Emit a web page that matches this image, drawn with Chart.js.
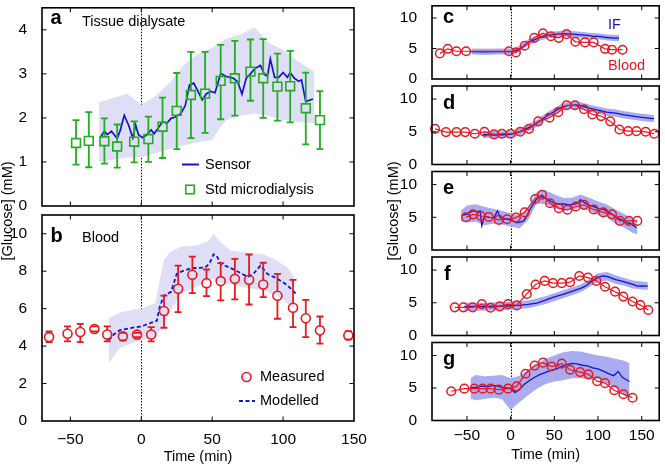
<!DOCTYPE html>
<html>
<head>
<meta charset="utf-8">
<title>Glucose: tissue dialysate, blood and IF</title>
<script src="https://cdn.jsdelivr.net/npm/chart.js@4.4.0/dist/chart.umd.min.js"></script>
<style>
  html, body { margin: 0; padding: 0; background: #fff; }
  #fig { position: relative; width: 665px; height: 465px; overflow: hidden; }
  #fig canvas { position: absolute; left: 0; top: 0; }
</style>
</head>
<body>
<div id="fig">
  <canvas id="panelA" width="665" height="465"></canvas>
  <canvas id="panelB" width="665" height="465"></canvas>
  <canvas id="panelC" width="665" height="465"></canvas>
  <canvas id="panelD" width="665" height="465"></canvas>
  <canvas id="panelE" width="665" height="465"></canvas>
  <canvas id="panelF" width="665" height="465"></canvas>
  <canvas id="panelG" width="665" height="465"></canvas>
</div>
<script>
/* ============================================
   COLOURS
   ============================================ */
const BLUE       = '#1414c8';   // sensor / IF / modelled
const GREEN      = '#22ad22';   // std microdialysis
const RED        = '#e8191e';   // blood
const BAND_LIGHT = '#dedff7';   // shaded band, panels a-b
const BAND_RIGHT = '#aaacf2';   // shaded band, panels c-g
const FONT       = '"Liberation Sans", Arial, Helvetica, sans-serif';

const W = 665, H = 465;

// ============================================
// DATA
// ============================================

// tick labels
const xTicks      = [-50, 0, 50, 100, 150];
const yTicksA     = [0, 1, 2, 3, 4];
const yTicksB     = [0, 2, 4, 6, 8, 10];
const yTicksRight = [0, 5, 10];

// a) tissue dialysate - std microdialysis (mean, upper, lower)
const microT  = [-46, -37, -26, -17, -5, 5, 15, 25, 35, 45, 56, 66, 77, 86, 96, 105, 116, 126];
const microV  = [1.43, 1.48, 1.47, 1.35, 1.46, 1.52, 1.80, 2.16, 2.52, 2.55, 2.84, 2.90, 3.05, 2.90, 2.71, 2.72, 2.22, 1.95];
const microHi = [1.95, 2.13, 1.99, 1.85, 1.92, 2.03, 2.46, 3.02, 3.50, 3.50, 3.66, 3.75, 3.78, 3.79, 3.46, 3.52, 3.03, 2.61];
const microLo = [0.94, 0.88, 0.96, 0.87, 0.99, 1.00, 1.09, 1.29, 1.54, 1.66, 1.97, 2.05, 2.39, 2.00, 1.94, 1.90, 1.40, 1.29];

// a) sensor
const sensorT = [-29, -26, -24, -21, -17, -15, -12, -9, -6, -4, -2, 1, 4, 7, 9, 12, 15, 18, 21, 24,
                 28, 31, 34, 37, 40, 43, 46, 49, 52, 56, 60, 65, 68, 71, 74, 77, 80, 84, 87, 89,
                 91, 94, 97, 100, 103, 105, 108, 111, 113, 116, 121];
const sensorV = [1.55, 1.70, 1.62, 1.70, 1.53, 1.70, 2.06, 1.84, 1.55, 1.84, 1.62, 1.55, 1.62, 1.73, 1.64, 1.77, 1.92, 1.88, 1.99, 2.02,
                 2.10, 2.28, 2.75, 2.79, 2.60, 2.41, 2.55, 2.60, 2.57, 3.01, 2.94, 2.90, 2.82, 2.54, 2.90, 3.00, 3.12, 3.19, 2.98, 2.95,
                 3.34, 2.92, 2.92, 3.03, 2.92, 3.03, 2.90, 2.83, 2.86, 2.37, 2.43];

// a) sensor band
const aBandT  = [-30, -20, -10, 0, 10, 20, 30, 40, 50, 55, 60, 70, 80, 90, 100, 110, 122];
const aBandHi = [2.35, 2.45, 2.55, 2.30, 2.50, 2.80, 3.20, 3.45, 3.60, 3.70, 3.80, 3.90, 4.05, 3.70, 3.55, 3.30, 3.05];
const aBandLo = [1.00, 1.05, 1.10, 1.10, 1.20, 1.30, 1.38, 1.45, 1.50, 1.75, 1.95, 2.05, 2.10, 2.05, 1.95, 1.90, 1.88];

// b) blood - measured (mean, upper, lower)
const bloodT  = [-65, -52, -43, -33, -24, -13, -3, 7, 16, 26, 36, 46, 56, 66, 76, 86, 96, 107, 116, 126, 146];
const bloodV  = [4.48, 4.66, 4.75, 4.91, 4.62, 4.52, 4.61, 4.62, 5.87, 7.06, 7.81, 7.36, 7.47, 7.59, 7.54, 7.29, 6.69, 6.05, 5.49, 4.84, 4.57];
const bloodHi = [4.78, 5.05, 5.19, 5.05, 5.05, 4.71, 4.71, 5.01, 6.70, 8.30, 8.78, 8.09, 8.43, 8.66, 8.89, 8.45, 7.86, 7.54, 6.47, 5.58, 4.80];
const bloodLo = [4.21, 4.25, 4.21, 4.78, 4.25, 4.30, 4.48, 4.25, 4.98, 5.81, 6.83, 6.67, 6.44, 6.49, 6.22, 6.61, 5.46, 5.01, 4.48, 4.13, 4.36];

// b) modelled
const modelT = [-23, -19, -15, -5, 0, 9, 11, 13, 16, 21, 25, 29, 35, 45, 48, 51, 53, 56, 65, 75, 79, 84, 89, 96, 103, 109];
const modelV = [4.30, 4.65, 4.85, 5.00, 5.05, 5.30, 5.35, 6.10, 6.70, 6.90, 7.85, 8.00, 8.15, 8.20, 8.40, 8.90, 8.85, 8.40, 8.10, 7.70, 7.85, 8.30, 7.85, 7.60, 7.25, 6.80];

// b) modelled band
const bBandT  = [-23, -15, -5, 0, 10, 13, 16, 20, 28, 40, 47, 51, 55, 63, 75, 86, 95, 103, 108];
const bBandHi = [5.5, 5.8, 5.95, 6.0, 6.3, 7.5, 8.6, 9.0, 9.3, 9.4, 9.6, 10.0, 9.6, 9.1, 9.0, 8.9, 8.6, 8.2, 7.7];
const bBandLo = [3.1, 3.9, 4.2, 4.3, 4.5, 4.8, 5.0, 5.8, 6.8, 7.2, 7.5, 7.6, 7.4, 7.3, 7.1, 7.0, 6.7, 6.3, 6.0];

// c) single subject
const cBloodT = [-81, -72, -62, -51, -2, 6, 16, 27, 37, 46, 55, 64, 74, 85, 95, 108, 116, 128];
const cBloodV = [4.2, 4.95, 4.55, 4.55, 4.55, 4.35, 5.45, 6.75, 7.5, 7.0, 6.75, 7.35, 6.1, 6.0, 6.0, 4.95, 4.8, 4.8];
const cIfT    = [-45, -30, -15, 0, 5, 10, 15, 20, 25, 30, 35, 40, 45, 50, 55, 60, 65, 70, 75, 80, 85, 90, 95, 100, 105, 110, 115, 120, 124];
const cIfV    = [4.5, 4.45, 4.5, 4.5, 4.6, 4.9, 5.4, 6.0, 6.3, 6.6, 6.9, 7.1, 7.2, 7.3, 7.4, 7.45, 7.4, 7.35, 7.3, 7.25, 7.2, 7.1, 7.0, 7.0, 6.9, 6.8, 6.75, 6.7, 6.7];
const cBandT  = [-45, -30, -15, 0, 10, 20, 30, 40, 50, 60, 70, 80, 90, 100, 110, 124];
const cBandHi = [5.0, 4.95, 5.0, 5.0, 5.4, 6.5, 7.1, 7.6, 7.8, 7.95, 7.85, 7.75, 7.6, 7.5, 7.3, 7.2];
const cBandLo = [4.0, 3.95, 4.0, 4.0, 4.4, 5.5, 6.1, 6.6, 6.8, 6.95, 6.85, 6.75, 6.6, 6.5, 6.3, 6.2];

// d)
const dBloodT = [-86.5, -74, -62, -52, -41, -30, -19, -10, 0, 11, 21, 31.5, 44.5, 54.5, 64, 73.5, 84, 93.5, 103.5, 114, 124.5, 134.5, 144, 154.5, 164.5];
const dBloodV = [5.45, 4.95, 4.95, 4.95, 4.7, 5.0, 4.6, 4.7, 4.7, 5.0, 5.45, 6.6, 7.15, 8.0, 9.05, 9.05, 8.45, 7.65, 7.4, 6.6, 5.35, 5.1, 5.1, 5.0, 4.7];
const dIfT    = [-32, -20, -10, 0, 5, 10, 15, 20, 25, 30, 35, 40, 45, 50, 55, 60, 65, 70, 75, 80, 90, 100, 110, 120, 130, 140, 150, 160, 164];
const dIfV    = [4.6, 4.5, 4.55, 4.6, 4.8, 5.0, 5.3, 5.6, 5.9, 6.3, 6.8, 7.3, 7.7, 8.1, 8.5, 8.85, 9.0, 9.05, 9.1, 9.0, 8.6, 8.3, 8.0, 7.85, 7.6, 7.4, 7.2, 7.05, 7.0];
const dBandT  = [-32, -15, 0, 10, 20, 30, 40, 50, 60, 70, 80, 90, 100, 110, 120, 130, 140, 150, 164];
const dBandHi = [5.15, 5.1, 5.15, 5.55, 6.15, 6.85, 7.85, 8.65, 9.4, 9.6, 9.55, 9.15, 8.85, 8.55, 8.4, 8.15, 7.95, 7.75, 7.55];
const dBandLo = [4.05, 4.0, 4.05, 4.45, 5.05, 5.75, 6.75, 7.55, 8.3, 8.5, 8.45, 8.05, 7.75, 7.45, 7.3, 7.05, 6.85, 6.65, 6.45];

// e)
const eBloodT = [-51, -43, -34, -25, -13.5, -4, 6, 16, 28, 36, 45, 55, 65, 74.5, 84, 95, 106, 116, 125, 135.5, 145];
const eBloodV = [5.0, 5.45, 5.2, 5.05, 4.6, 4.7, 4.95, 5.75, 7.8, 8.45, 7.15, 6.4, 6.15, 6.65, 6.9, 6.2, 5.75, 5.45, 4.45, 4.45, 4.45];
const eIfT    = [-56, -50, -43, -38, -35, -33, -30, -25, -19, -15, -12, -7, -3, 2, 7, 12, 15, 19, 22, 27, 31, 35,
                 39, 44, 48, 55, 61, 67, 73, 77, 80, 85, 91, 96, 101, 106, 112, 117, 121, 127, 132, 136, 140, 144];
const eIfV    = [5.3, 5.5, 6.0, 5.8, 6.0, 3.7, 5.2, 5.0, 4.95, 6.0, 4.95, 4.8, 4.7, 4.5, 4.15, 4.3, 4.45, 5.3, 6.2, 7.2, 8.05, 8.2,
                 8.0, 7.6, 7.3, 7.0, 7.05, 6.9, 7.0, 7.2, 7.7, 7.2, 6.8, 6.6, 6.3, 6.25, 5.8, 5.4, 4.95, 4.6, 4.2, 4.1, 3.8, 3.4];
const eBandT  = [-57, -50, -40, -30, -20, -10, 0, 10, 20, 30, 40, 50, 60, 70, 80, 90, 100, 110, 120, 130, 140, 145];
const eBandHi = [6.0, 6.8, 7.0, 6.6, 6.3, 6.0, 5.6, 5.2, 6.6, 8.9, 9.1, 8.5, 8.0, 8.0, 8.5, 8.0, 7.4, 7.0, 6.2, 5.5, 4.8, 4.5];
const eBandLo = [4.4, 4.2, 4.3, 3.8, 4.0, 3.9, 3.6, 3.3, 4.6, 7.1, 7.0, 6.4, 6.0, 6.1, 6.5, 6.0, 5.4, 5.0, 4.0, 3.4, 2.6, 2.4];

// f)
const fBloodT = [-64, -54, -43.5, -33, -23, -12.5, -3, 7, 18.5, 28.5, 39, 48.5, 58.5, 68, 78.5, 88.5, 98, 108, 119.5, 129, 139.5, 148.5, 157.5];
const fBloodV = [4.3, 4.3, 4.3, 4.8, 4.25, 4.45, 4.8, 4.6, 6.35, 7.8, 8.35, 8.0, 8.0, 8.15, 9.1, 8.85, 8.35, 7.45, 6.7, 5.95, 5.2, 4.65, 3.9];
const fIfT    = [-53, -40, -30, -20, -10, 0, 10, 20, 30, 40, 50, 60, 70, 80, 85, 90, 95, 100, 105, 110, 115, 120, 125, 130, 135, 140, 145, 150, 157];
const fIfV    = [4.4, 4.45, 4.4, 4.5, 4.5, 4.55, 4.6, 4.75, 4.95, 5.4, 5.9, 6.3, 6.75, 7.2, 7.5, 8.0, 8.5, 8.85, 9.1, 9.05, 8.8, 8.55, 8.4, 8.2, 8.0, 7.8, 7.55, 7.6, 7.55];
const fBandT  = [-53, -30, 0, 20, 40, 60, 80, 90, 100, 110, 120, 130, 140, 157];
const fBandHi = [5.0, 5.0, 5.15, 5.35, 6.0, 6.9, 7.8, 8.6, 9.5, 9.7, 9.2, 8.8, 8.4, 8.15];
const fBandLo = [3.8, 3.8, 3.95, 4.15, 4.8, 5.7, 6.6, 7.4, 8.2, 8.4, 7.9, 7.6, 7.2, 6.95];

// g)
const gBloodT = [-68, -53, -41.5, -32, -23, -13.5, -3, 7, 17, 27.5, 37, 47, 58.5, 68, 79.5, 89, 99, 108, 118.5, 129, 139.5];
const gBloodV = [4.5, 4.9, 4.9, 4.9, 4.9, 4.75, 4.9, 5.25, 7.2, 8.45, 8.9, 8.3, 8.75, 7.8, 7.45, 7.1, 6.05, 5.75, 4.65, 4.05, 3.5];
const gIfT    = [-46, -40, -35, -30, -25, -20, -15, -10, -5, 0, 5, 10, 16, 22, 28, 34, 40, 46, 52, 58, 64, 70,
                 76, 82, 88, 94, 100, 106, 112, 118, 123, 128, 132, 136];
const gIfV    = [5.0, 5.1, 5.25, 5.3, 5.2, 5.4, 5.3, 5.1, 5.0, 4.9, 4.3, 4.8, 5.6, 6.2, 6.7, 7.1, 7.4, 7.7, 7.9, 8.3, 8.6, 8.8,
                 8.7, 8.5, 8.4, 8.1, 7.95, 7.6, 7.2, 6.9, 7.55, 6.6, 6.3, 6.0];
const gBandT  = [-46, -40, -30, -20, -10, 0, 10, 20, 30, 40, 50, 60, 70, 80, 90, 100, 110, 120, 130, 136];
const gBandHi = [6.5, 7.0, 6.8, 6.9, 7.0, 6.5, 6.9, 7.8, 8.7, 9.5, 10.0, 10.5, 10.7, 10.6, 10.3, 10.0, 9.8, 9.5, 9.2, 8.8];
const gBandLo = [3.4, 3.1, 3.3, 3.5, 3.3, 1.6, 2.8, 3.9, 4.9, 5.6, 6.0, 6.2, 6.5, 6.5, 6.3, 6.4, 5.7, 5.0, 3.9, 3.6];

// ============================================
// HELPERS
// ============================================
Chart.defaults.font.family = FONT;
Chart.defaults.color = '#000';

const pts = (xs, ys) => xs.map((x, i) => ({ x: x, y: ys[i] }));
const minus = v => String(v).replace('-', '\u2212');   // MATLAB style minus sign

// band = upper line + lower line filled to the previous dataset
function band(t, hi, lo, colour) {
    return [
        { data: pts(t, hi), borderWidth: 0, pointRadius: 0, fill: false, order: 9 },
        { data: pts(t, lo), borderWidth: 0, pointRadius: 0, fill: '-1', backgroundColor: colour, order: 9 }
    ];
}

// blue trace
function trace(t, v, width, dash) {
    return { data: pts(t, v), borderColor: BLUE, borderWidth: width, borderDash: dash || [],
             pointRadius: 0, fill: false, order: 3 };
}

// red circles joined by a line (panels c-g)
function bloodLine(t, v) {
    return { data: pts(t, v), borderColor: RED, borderWidth: 1.2, pointRadius: 4.3, pointBorderWidth: 1.5,
             pointBorderColor: RED, pointBackgroundColor: 'rgba(0,0,0,0)', fill: false, order: 1, clip: 6 };
}

// ============================================
// PLUGINS
// ============================================

// frame: box, inward ticks, dotted line at time 0
const TICK = 4.5;
const framePlugin = {
    id: 'frame',
    beforeDatasetsDraw(chart) {
        const { ctx, chartArea: a, scales: { x } } = chart;
        const p = Math.round(x.getPixelForValue(0)) + 0.5;
        ctx.save();
        ctx.strokeStyle = '#000';
        ctx.lineWidth = 1;
        ctx.setLineDash([1.5, 1.5]);
        ctx.beginPath();
        ctx.moveTo(p, a.top);
        ctx.lineTo(p, a.bottom);
        ctx.stroke();
        ctx.restore();
    },
    afterDatasetsDraw(chart) {
        const { ctx, chartArea: a, scales: { x, y } } = chart;
        ctx.save();
        ctx.strokeStyle = '#000';
        ctx.lineWidth = 1;
        ctx.beginPath();
        x.ticks.forEach(t => {
            const p = x.getPixelForValue(t.value);
            if (p < a.left + 2 || p > a.right - 2) return;
            ctx.moveTo(p, a.bottom); ctx.lineTo(p, a.bottom - TICK);
            ctx.moveTo(p, a.top);    ctx.lineTo(p, a.top + TICK);
        });
        y.ticks.forEach(t => {
            const p = y.getPixelForValue(t.value);
            if (p < a.top + 2 || p > a.bottom - 2) return;
            ctx.moveTo(a.left, p);  ctx.lineTo(a.left + TICK, p);
            ctx.moveTo(a.right, p); ctx.lineTo(a.right - TICK, p);
        });
        ctx.stroke();
        ctx.lineWidth = 1.6;
        ctx.strokeRect(a.left, a.top, a.right - a.left, a.bottom - a.top);
        ctx.restore();
    }
};

// error bars: dataset.errHi / errLo, gap around the marker, caps
const errorBarPlugin = {
    id: 'errorBars',
    afterDatasetsDraw(chart) {
        const { ctx, scales: { x, y } } = chart;
        chart.data.datasets.forEach(ds => {
            if (!ds.errHi) return;
            ctx.save();
            ctx.strokeStyle = ds.borderColor;
            ctx.lineWidth = 1.8;
            ctx.beginPath();
            ds.data.forEach((d, i) => {
                const px = x.getPixelForValue(d.x);
                const pc = y.getPixelForValue(d.y);
                const ph = y.getPixelForValue(ds.errHi[i]);
                const pl = y.getPixelForValue(ds.errLo[i]);
                if (pc - ds.errGap > ph) { ctx.moveTo(px, ph); ctx.lineTo(px, pc - ds.errGap); }
                if (pc + ds.errGap < pl) { ctx.moveTo(px, pc + ds.errGap); ctx.lineTo(px, pl); }
                ctx.moveTo(px - ds.capHalf, ph); ctx.lineTo(px + ds.capHalf, ph);
                ctx.moveTo(px - ds.capHalf, pl); ctx.lineTo(px + ds.capHalf, pl);
            });
            ctx.stroke();
            ctx.restore();
        });
    }
};

// annotations: panel letters, titles, legends, shared axis titles
const NOTES = {
    panelA: [
        { text: 'a', x: 50.5, y: 24, font: 'bold 20px ' + FONT },
        { text: 'Tissue dialysate', x: 82, y: 26, font: '14.5px ' + FONT },
        { kind: 'line', x1: 182, x2: 199, y: 164.5, color: BLUE, width: 2 },
        { text: 'Sensor', x: 205, y: 164.5, font: '14.5px ' + FONT, baseline: 'middle' },
        { kind: 'rect', x: 190, y: 189.5, size: 8.5, color: GREEN },
        { text: 'Std microdialysis', x: 205, y: 189.5, font: '14.5px ' + FONT, baseline: 'middle' },
        { text: '[Glucose] (mM)', x: 8, y: 211, font: '14.5px ' + FONT, rotate: -Math.PI / 2, align: 'center', baseline: 'middle' }
    ],
    panelB: [
        { text: 'b', x: 50.5, y: 241.5, font: 'bold 20px ' + FONT },
        { text: 'Blood', x: 82, y: 241.5, font: '14.5px ' + FONT },
        { kind: 'circle', x: 246.5, y: 377, r: 4.5, color: RED },
        { text: 'Measured', x: 260, y: 377, font: '14.5px ' + FONT, baseline: 'middle' },
        { kind: 'line', x1: 239, x2: 255, y: 401, color: BLUE, width: 1.8, dash: [4, 2.5] },
        { text: 'Modelled', x: 260, y: 401, font: '14.5px ' + FONT, baseline: 'middle' }
    ],
    panelC: [
        { text: 'c', x: 443, y: 23, font: 'bold 20px ' + FONT },
        { text: 'IF', x: 608, y: 28.5, font: '14.5px ' + FONT, color: BLUE },
        { text: 'Blood', x: 608, y: 70, font: '14.5px ' + FONT, color: RED }
    ],
    panelD: [ { text: 'd', x: 443, y: 108.5, font: 'bold 20px ' + FONT } ],
    panelE: [
        { text: 'e', x: 443, y: 193.5, font: 'bold 20px ' + FONT },
        { text: '[Glucose] (mM)', x: 394, y: 211, font: '14.5px ' + FONT, rotate: -Math.PI / 2, align: 'center', baseline: 'middle' }
    ],
    panelF: [ { text: 'f', x: 444, y: 279.5, font: 'bold 20px ' + FONT } ],
    panelG: [ { text: 'g', x: 443, y: 364.5, font: 'bold 20px ' + FONT } ]
};

const notesPlugin = {
    id: 'notes',
    afterDraw(chart) {
        const ctx = chart.ctx;
        (NOTES[chart.canvas.id] || []).forEach(it => {
            ctx.save();
            if (it.kind === 'line') {
                ctx.strokeStyle = it.color; ctx.lineWidth = it.width;
                ctx.setLineDash(it.dash || []);
                ctx.beginPath(); ctx.moveTo(it.x1, it.y); ctx.lineTo(it.x2, it.y); ctx.stroke();
            } else if (it.kind === 'rect') {
                ctx.strokeStyle = it.color; ctx.lineWidth = 1.6;
                ctx.strokeRect(it.x - it.size / 2, it.y - it.size / 2, it.size, it.size);
            } else if (it.kind === 'circle') {
                ctx.strokeStyle = it.color; ctx.lineWidth = 1.6;
                ctx.beginPath(); ctx.arc(it.x, it.y, it.r, 0, Math.PI * 2); ctx.stroke();
            } else {
                ctx.font = it.font;
                ctx.fillStyle = it.color || '#000';
                ctx.textAlign = it.align || 'left';
                ctx.textBaseline = it.baseline || 'alphabetic';
                ctx.translate(it.x, it.y);
                if (it.rotate) ctx.rotate(it.rotate);
                ctx.fillText(it.text, 0, 0);
            }
            ctx.restore();
        });
    }
};

// ============================================
// PANEL FACTORY
// ============================================
// box = chart area in page pixels; every canvas covers the whole figure
function makePanel(id, box, xRange, yRange, yTicks, xLabels, datasets) {
    return new Chart(document.getElementById(id), {
        type: 'line',
        data: { datasets: datasets },
        options: {
            responsive: false,
            animation: false,
            devicePixelRatio: 1,
            layout: { padding: { top: box.t, right: W - box.r, left: 0, bottom: 0 } },
            plugins: { legend: { display: false }, tooltip: { enabled: false } },
            scales: {
                x: {
                    type: 'linear', min: xRange[0], max: xRange[1],
                    grid: { display: false }, border: { display: false },
                    afterBuildTicks: s => { s.ticks = xTicks.map(v => ({ value: v })); },
                    afterFit: s => { s.height = H - box.b; s.paddingLeft = 0; s.paddingRight = 0; },
                    ticks: { display: !!xLabels, padding: xLabels ? xLabels.pad : 0, autoSkip: false, maxRotation: 0,
                             font: { size: 15.5, lineHeight: 1.2 }, callback: minus },
                    title: { display: !!xLabels, text: 'Time (min)', font: { size: 14.5, lineHeight: 1 },
                             padding: { top: 0, bottom: xLabels ? xLabels.titlePad : 0 } }
                },
                y: {
                    type: 'linear', min: yRange[0], max: yRange[1],
                    grid: { display: false }, border: { display: false },
                    afterBuildTicks: s => { s.ticks = yTicks.map(v => ({ value: v })); },
                    afterFit: s => { s.width = box.l; s.paddingTop = 0; s.paddingBottom = 0; },
                    ticks: { padding: 7, autoSkip: false, font: { size: 15.5 }, callback: minus }
                }
            }
        },
        plugins: [framePlugin, errorBarPlugin, notesPlugin]
    });
}

// ============================================
// LEFT PANELS (a, b)
// ============================================
const LEFT_X = [-70, 150];

makePanel('panelA', { l: 42, t: 1, r: 354, b: 206 }, LEFT_X, [0, 4.5], yTicksA, null, [
    ...band(aBandT, aBandHi, aBandLo, BAND_LIGHT),
    trace(sensorT, sensorV, 1.7),
    { data: pts(microT, microV), showLine: false, pointStyle: 'rect', pointRadius: 6.2, pointBorderWidth: 1.6,
      pointBorderColor: GREEN, pointBackgroundColor: 'rgba(0,0,0,0)', borderColor: GREEN, order: 1,
      errHi: microHi, errLo: microLo, errGap: 4.5, capHalf: 3.5 }
]);

makePanel('panelB', { l: 42, t: 215, r: 354, b: 421 }, LEFT_X, [0, 11], yTicksB, { pad: 1, titlePad: 1 }, [
    ...band(bBandT, bBandHi, bBandLo, BAND_LIGHT),
    trace(modelT, modelV, 1.8, [4, 2.5]),
    { data: pts(bloodT, bloodV), showLine: false, pointStyle: 'circle', pointRadius: 4.5, pointBorderWidth: 1.6,
      pointBorderColor: RED, pointBackgroundColor: 'rgba(0,0,0,0)', borderColor: RED, order: 1,
      errHi: bloodHi, errLo: bloodLo, errGap: 4.5, capHalf: 3.5 }
]);

// ============================================
// RIGHT PANELS (c - g)
// ============================================
const RIGHT_X = [-90, 170];
const RIGHT_Y = [0, 12];

makePanel('panelC', { l: 432, t: 1, r: 663, b: 79 }, RIGHT_X, RIGHT_Y, yTicksRight, null, [
    ...band(cBandT, cBandHi, cBandLo, BAND_RIGHT), trace(cIfT, cIfV, 1.3), bloodLine(cBloodT, cBloodV)
]);
makePanel('panelD', { l: 432, t: 86, r: 663, b: 164.5 }, RIGHT_X, RIGHT_Y, yTicksRight, null, [
    ...band(dBandT, dBandHi, dBandLo, BAND_RIGHT), trace(dIfT, dIfV, 1.3), bloodLine(dBloodT, dBloodV)
]);
makePanel('panelE', { l: 432, t: 171.5, r: 663, b: 250 }, RIGHT_X, RIGHT_Y, yTicksRight, null, [
    ...band(eBandT, eBandHi, eBandLo, BAND_RIGHT), trace(eIfT, eIfV, 1.3), bloodLine(eBloodT, eBloodV)
]);
makePanel('panelF', { l: 432, t: 257, r: 663, b: 335.5 }, RIGHT_X, RIGHT_Y, yTicksRight, null, [
    ...band(fBandT, fBandHi, fBandLo, BAND_RIGHT), trace(fIfT, fIfV, 1.3), bloodLine(fBloodT, fBloodV)
]);
makePanel('panelG', { l: 432, t: 342.5, r: 663, b: 420.5 }, RIGHT_X, RIGHT_Y, yTicksRight, { pad: -2, titlePad: 3 }, [
    ...band(gBandT, gBandHi, gBandLo, BAND_RIGHT), trace(gIfT, gIfV, 1.3), bloodLine(gBloodT, gBloodV)
]);
</script>
</body>
</html>
